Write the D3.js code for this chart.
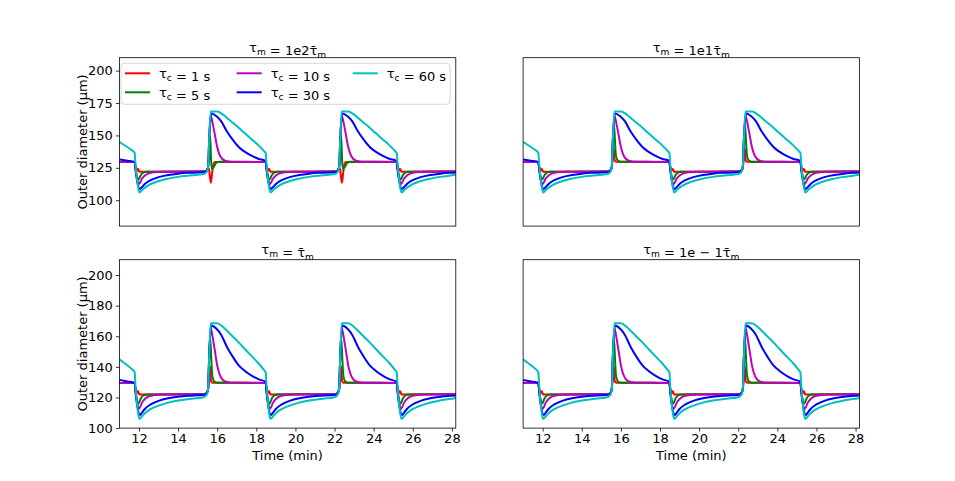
<!DOCTYPE html>
<html>
<head>
<meta charset="utf-8">
<script src="https://cdn.jsdelivr.net/npm/d3@7"></script>
<style>
  body { margin: 0; background: #fff; }
  svg { font-family: "DejaVu Sans", sans-serif; }
</style>
</head>
<body>
<svg id="canvas" width="955" height="481"></svg>
<script>
// values: [time (min), outer diameter (um)]
var c60 = [[11.00,145],[11.30,142],[11.60,139],[11.78,136.5],[11.82,128],[11.90,116],[11.98,108],[12.03,106],
  [12.10,106.8],[12.25,109],[12.50,111.7],[12.90,114.2],[13.40,116.3],[14.00,118],[14.70,119.2],[15.30,120.2],
  [15.45,121.5],[15.53,125],[15.60,150],[15.67,168.5],[16.00,168.5],[16.30,166],[16.70,161],[17.10,156],
  [17.40,151.8],[17.80,146.5],[18.10,142.5],[18.45,137],[18.48,136.5],[18.52,128],[18.60,116],[18.68,108],
  [18.73,106],[18.80,106.8],[18.95,109],[19.20,111.7],[19.60,114.2],[20.10,116.3],[20.70,118],[21.40,119.2],
  [22.00,120.2],[22.15,121.5],[22.23,125],[22.30,150],[22.37,168.5],[22.70,168.5],[23.00,166],[23.40,161],
  [23.80,156],[24.10,151.8],[24.50,146.5],[24.80,142.5],[25.15,137],[25.18,136.5],[25.22,128],[25.30,116],
  [25.38,108],[25.43,106],[25.50,106.8],[25.65,109],[25.90,111.7],[26.30,114.2],[26.80,116.3],[27.40,118],
  [28.10,119.4],[28.20,119.6]];

var c30 = [[11.00,131.5],[11.40,130.5],[11.78,129.6],[11.82,124],[11.90,116],[11.98,110],[12.04,108.5],
  [12.15,110],[12.30,112.5],[12.60,115.5],[13.00,117.8],[13.50,119.5],[14.00,120.5],[14.50,121.1],[15.00,121.4],
  [15.35,121.7],[15.45,122.5],[15.53,125],[15.60,150],[15.70,167],[15.95,165],[16.20,161],[16.50,153],
  [16.80,146.5],[17.10,141],[17.40,137.5],[17.80,134],[18.10,132],[18.45,130.5],[18.48,130.3],[18.52,124],
  [18.60,116],[18.68,110],[18.74,108.5],[18.85,110],[19.00,112.5],[19.30,115.5],[19.70,117.8],[20.20,119.5],
  [20.70,120.5],[21.20,121.1],[21.70,121.4],[22.05,121.7],[22.15,122.5],[22.23,125],[22.30,150],[22.40,167],
  [22.65,165],[22.90,161],[23.20,153],[23.50,146.5],[23.80,141],[24.10,137.5],[24.50,134],[24.80,132],
  [25.15,130.5],[25.18,130.3],[25.22,124],[25.30,116],[25.38,110],[25.44,108.5],[25.55,110],[25.70,112.5],
  [26.00,115.5],[26.40,117.8],[26.90,119.5],[27.40,120.5],[27.90,121.1],[28.20,121.3]];

var c10 = [[11.00,129.5],[11.78,129.4],[11.83,124],[11.90,116],[11.98,112.5],[12.05,113.5],[12.15,116.5],
  [12.30,119],[12.50,120.7],[12.80,121.6],[13.20,122],[15.35,122.1],[15.45,122.8],[15.53,125],[15.60,150],
  [15.67,165],[15.80,157],[15.90,149],[16.00,141],[16.10,136],[16.25,132],[16.45,130.3],[16.70,129.7],
  [18.45,129.5],[18.48,129.4],[18.53,124],[18.60,116],[18.68,112.5],[18.75,113.5],[18.85,116.5],[19.00,119],
  [19.20,120.7],[19.50,121.6],[19.90,122],[22.05,122.1],[22.15,122.8],[22.23,125],[22.30,150],[22.37,165],
  [22.50,157],[22.60,149],[22.70,141],[22.80,136],[22.95,132],[23.15,130.3],[23.40,129.7],[25.15,129.5],
  [25.18,129.4],[25.23,124],[25.30,116],[25.38,112.5],[25.45,113.5],[25.55,116.5],[25.70,119],[25.90,120.7],
  [26.20,121.6],[26.60,122],[28.20,122.1]];

var c5 = [[11.00,129.5],[11.78,129.4],[11.83,124],[11.90,118],[11.95,115.8],[12.00,116.5],[12.10,119.5],
  [12.22,121.3],[12.40,122],[15.35,122.1],[15.45,122.8],[15.53,125],[15.60,150],[15.65,158],[15.70,145],
  [15.75,134],[15.85,130.5],[16.00,129.7],[18.45,129.5],[18.48,129.4],[18.53,124],[18.60,118],[18.65,115.8],
  [18.70,116.5],[18.80,119.5],[18.92,121.3],[19.10,122],[22.05,122.1],[22.15,122.8],[22.23,125],[22.30,150],
  [22.35,158],[22.40,145],[22.45,134],[22.55,130.5],[22.70,129.7],[25.15,129.5],[25.18,129.4],[25.23,124],
  [25.30,118],[25.35,115.8],[25.40,116.5],[25.50,119.5],[25.62,121.3],[25.80,122],[28.20,122.1]];

// top-left panel: green undershoots after the rise
var c5TL = [[11.00,129.5],[11.78,129.4],[11.83,124],[11.90,118],[11.95,115.8],[12.00,116.5],[12.10,119.5],
  [12.22,121.3],[12.40,122],[15.35,122.1],[15.45,122.8],[15.53,125],[15.60,140],[15.64,150],[15.69,130],
  [15.74,124],[15.82,125.5],[15.95,128.8],[16.10,129.6],[18.45,129.5],[18.48,129.4],[18.53,124],[18.60,118],
  [18.65,115.8],[18.70,116.5],[18.80,119.5],[18.92,121.3],[19.10,122],[22.05,122.1],[22.15,122.8],[22.23,125],
  [22.30,140],[22.34,150],[22.39,130],[22.44,124],[22.52,125.5],[22.65,128.8],[22.80,129.6],[25.15,129.5],
  [25.18,129.4],[25.23,124],[25.30,118],[25.35,115.8],[25.40,116.5],[25.50,119.5],[25.62,121.3],[25.80,122],
  [28.20,122.1]];

var c1 = [[11.00,129.5],[11.78,129.4],[11.82,126],[11.87,124.5],[11.92,123],[11.96,124],[12.02,122],
  [15.35,122.1],[15.45,122.8],[15.53,125],[15.60,135],[15.64,140],[15.68,131],[15.75,129.6],[18.45,129.5],
  [18.48,129.4],[18.52,126],[18.57,124.5],[18.62,123],[18.66,124],[18.72,122],[22.05,122.1],[22.15,122.8],
  [22.23,125],[22.30,135],[22.34,140],[22.38,131],[22.45,129.6],[25.15,129.5],[25.18,129.4],[25.22,126],
  [25.27,124.5],[25.32,123],[25.36,124],[25.42,122],[28.20,122.1]];

// top-left panel: red dips below at the rise
var c1TL = [[11.00,129.5],[11.78,129.4],[11.82,126],[11.87,124.5],[11.92,123],[11.96,124],[12.02,122],
  [15.35,122.1],[15.45,122.8],[15.53,125],[15.58,124],[15.63,118],[15.68,113.5],[15.74,121],[15.80,127.5],
  [15.88,129.5],[18.45,129.5],[18.48,129.4],[18.52,126],[18.57,124.5],[18.62,123],[18.66,124],[18.72,122],
  [22.05,122.1],[22.15,122.8],[22.23,125],[22.28,124],[22.33,118],[22.38,113.5],[22.44,121],[22.50,127.5],
  [22.58,129.5],[25.15,129.5],[25.18,129.4],[25.22,126],[25.27,124.5],[25.32,123],[25.36,124],[25.42,122],
  [28.20,122.1]];

var tauC = ["1", "5", "10", "30", "60"];
var lineColors = ["#ff0000", "#008000", "#bf00bf", "#0000ff", "#00bfbf"];
var titleFactors = ["1e2", "1e1", "", "1e \u2212 1"];
var xTicks = [12, 14, 16, 18, 20, 22, 24, 26, 28];
var yTicksTop = [100, 125, 150, 175, 200];
var yTicksBottom = [100, 120, 140, 160, 180, 200];

var svg = d3.select("#canvas");
var fs = 13;

var colX = [119.4, 523.1], rowY = [57.7, 259.7];
var aw = 336.4, ah = 168.4;

var panels = [
  {col: 0, row: 0, series: [c1TL, c5TL, c10, c30, c60], yd: [80, 210], yt: yTicksTop},
  {col: 1, row: 0, series: [c1, c5, c10, c30, c60], yd: [80, 210], yt: yTicksTop},
  {col: 0, row: 1, series: [c1, c5, c10, c30, c60], yd: [100, 210], yt: yTicksBottom},
  {col: 1, row: 1, series: [c1, c5, c10, c30, c60], yd: [100, 210], yt: yTicksBottom}
];

// writes tau with a subscript (and optional bar) into a text element
function tauText(sel, sub, bar) {
  sel.append("tspan").text(bar ? "\u03c4\u0304" : "\u03c4");
  sel.append("tspan").attr("font-size", fs * 0.7).attr("dy", 3).text(sub);
  sel.append("tspan").attr("dy", -3).text("");
}

panels.forEach(function(p, i) {
  var x0 = colX[p.col], y0 = rowY[p.row];
  var g = svg.append("g").attr("transform", "translate(" + x0 + "," + y0 + ")");

  var x = d3.scaleLinear().domain([11, 28.2]).range([0, aw]);
  var y = d3.scaleLinear().domain(p.yd).range([ah, 0]);

  g.append("clipPath").attr("id", "clip" + i)
    .append("rect").attr("width", aw).attr("height", ah);

  var line = d3.line()
    .x(function(d) { return x(d[0]); })
    .y(function(d) { return y(d[1]); })
    .curve(d3.curveMonotoneX);

  g.append("g").attr("clip-path", "url(#clip" + i + ")")
    .selectAll("path")
    .data(p.series)
    .enter().append("path")
      .attr("d", line)
      .attr("fill", "none")
      .attr("stroke", function(d, k) { return lineColors[k]; })
      .attr("stroke-width", 2)
      .attr("stroke-linejoin", "round");

  g.append("rect").attr("width", aw).attr("height", ah)
    .attr("fill", "none").attr("stroke", "#000").attr("stroke-width", 0.8);

  if (p.col == 0) {
    var ya = g.append("g").call(d3.axisLeft(y).tickValues(p.yt).tickSize(3.5).tickPadding(3));
    ya.select(".domain").remove();
    ya.selectAll("line").attr("stroke-width", 0.8);
    ya.selectAll("text").attr("font-size", fs).attr("font-family", "DejaVu Sans").attr("fill", "#000");
    svg.append("text")
      .attr("transform", "translate(87," + (y0 + ah / 2) + ") rotate(-90)")
      .attr("text-anchor", "middle").attr("font-size", fs)
      .text("Outer diameter (\u03bcm)");
  }
  if (p.row == 1) {
    var xa = g.append("g").attr("transform", "translate(0," + ah + ")")
      .call(d3.axisBottom(x).tickValues(xTicks).tickSize(3.5).tickPadding(2.5));
    xa.select(".domain").remove();
    xa.selectAll("line").attr("stroke-width", 0.8);
    xa.selectAll("text").attr("font-size", fs).attr("font-family", "DejaVu Sans").attr("fill", "#000");
    svg.append("text")
      .attr("x", x0 + aw / 2).attr("y", 459.5)
      .attr("text-anchor", "middle").attr("font-size", fs)
      .text("Time (min)");
  }

  // title
  var t = svg.append("text")
    .attr("x", x0 + aw / 2).attr("y", y0 - 6)
    .attr("text-anchor", "middle").attr("font-size", fs);
  tauText(t, "m", false);
  t.append("tspan").text(" = " + titleFactors[i]);
  tauText(t, "m", true);

  if (i == 0) {
    var lg = g.append("g");
    lg.append("rect")
      .attr("x", 121 - x0).attr("y", 63.3 - y0)
      .attr("width", 329).attr("height", 41).attr("rx", 3)
      .attr("fill", "#fff").attr("fill-opacity", 0.8)
      .attr("stroke", "#cccccc").attr("stroke-width", 0.8);
    var lx = [125, 236.7, 352.7], ly = [73.3, 92.3];
    tauC.forEach(function(c, k) {
      var cx = lx[Math.floor(k / 2)] - x0, cy = ly[k % 2] - y0;
      lg.append("line")
        .attr("x1", cx).attr("x2", cx + 25).attr("y1", cy).attr("y2", cy)
        .attr("stroke", lineColors[k]).attr("stroke-width", 2);
      var lt = lg.append("text").attr("x", cx + 34).attr("y", cy + 4.6).attr("font-size", fs);
      tauText(lt, "c", false);
      lt.append("tspan").text(" = " + c + " s");
    });
  }
});
</script>
</body>
</html>
